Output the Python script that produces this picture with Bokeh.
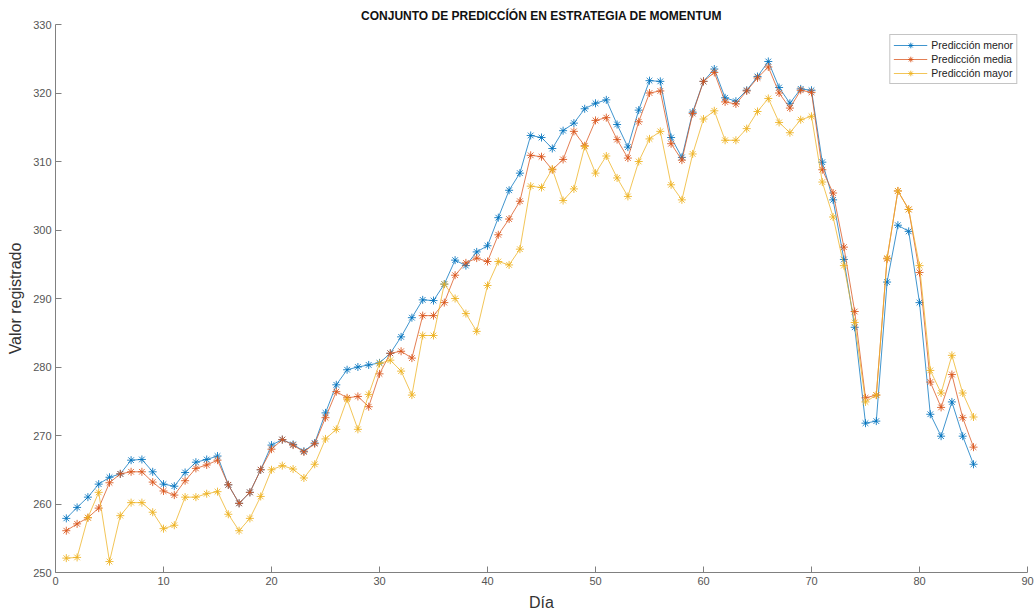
from bokeh.plotting import figure
from bokeh.models import ColumnDataSource, Range1d, FixedTicker, Legend, LegendItem
from bokeh.embed import file_html
from bokeh.resources import INLINE

# Day index and the three prediction series
dias = list(range(1, 86))

prediccion_menor = [
    257.9, 259.5, 261.0, 262.9, 263.9, 264.4, 266.4, 266.5, 264.7, 262.9,
    262.6, 264.6, 266.1, 266.5, 267.0, 262.8, 260.1, 261.7, 265.0, 268.6,
    269.4, 268.7, 267.7, 268.9, 273.3, 277.4, 279.6, 280.0, 280.3, 280.6,
    282.0, 284.4, 287.2, 289.8, 289.7, 292.1, 295.6, 294.8, 296.8, 297.7,
    301.8, 305.8, 308.3, 313.8, 313.5, 311.9, 314.5, 315.6, 317.7, 318.5,
    319.0, 315.4, 312.1, 317.5, 321.8, 321.7, 313.5, 310.6, 317.2, 321.7,
    323.5, 319.3, 318.8, 320.4, 322.4, 324.6, 320.8, 318.5, 320.6, 320.4,
    309.9, 304.4, 295.7, 285.8, 271.8, 272.1, 292.4, 300.7, 299.8, 289.4,
    273.1, 269.9, 274.9, 269.9, 265.8,
]

prediccion_media = [
    256.1, 257.1, 258.0, 259.4, 263.1, 264.4, 264.7, 264.7, 263.2, 261.9,
    261.3, 263.4, 265.2, 265.7, 266.4, 262.8, 260.1, 261.7, 265.0, 268.0,
    269.4, 268.6, 267.6, 268.8, 272.6, 276.4, 275.5, 275.7, 274.2, 279.0,
    282.0, 282.3, 281.3, 287.5, 287.5, 289.4, 293.4, 295.2, 295.9, 295.4,
    299.3, 301.6, 304.2, 310.9, 310.7, 308.8, 310.3, 314.4, 312.3, 316.0,
    316.4, 313.2, 310.5, 315.8, 320.0, 320.3, 312.6, 310.2, 317.0, 321.7,
    323.0, 318.7, 318.4, 320.3, 322.2, 323.8, 320.0, 317.8, 320.4, 320.1,
    308.8, 305.4, 297.5, 288.1, 275.5, 275.9, 295.8, 305.7, 303.0, 293.8,
    277.8, 274.1, 278.9, 272.6, 268.3,
]

prediccion_mayor = [
    252.1, 252.2, 258.0, 261.7, 251.6, 258.3, 260.2, 260.2, 258.8, 256.4,
    256.9, 261.0, 261.0, 261.5, 261.8, 258.5, 256.1, 257.9, 261.1, 265.0,
    265.6, 265.1, 263.8, 265.8, 269.5, 270.9, 275.3, 270.9, 276.0, 280.5,
    281.0, 279.4, 275.9, 284.6, 284.6, 292.1, 290.0, 287.8, 285.2, 291.9,
    295.4, 294.9, 297.2, 306.4, 306.2, 308.9, 304.3, 306.0, 312.2, 308.3,
    310.8, 307.6, 304.9, 310.0, 313.3, 314.4, 306.6, 304.4, 311.1, 316.2,
    317.4, 313.1, 313.1, 314.8, 317.3, 319.2, 315.7, 314.2, 316.1, 316.6,
    307.0, 301.9, 294.8, 286.5, 274.9, 275.9, 295.9, 305.7, 303.0, 294.8,
    279.5, 276.2, 281.7, 276.2, 272.7,
]

series_labels = ["Predicción menor", "Predicción media", "Predicción mayor"]
x_ticks = [0, 10, 20, 30, 40, 50, 60, 70, 80, 90]
y_ticks = [250, 260, 270, 280, 290, 300, 310, 320, 330]

colors = ["#0072BD", "#D95319", "#EDB120"]
FONT = "Liberation Sans"

p = figure(
    width=1036, height=613,
    output_backend="svg", toolbar_location=None,
    x_range=Range1d(0, 90), y_range=Range1d(250, 330),
    min_border_left=55, min_border_right=9,
    min_border_top=24, min_border_bottom=41,
    background_fill_color="white", border_fill_color="white",
    outline_line_color=None,
)

p.title.text = "CONJUNTO DE PREDICCÍÓN EN ESTRATEGIA DE MOMENTUM"
p.title.align = "center"
p.title.text_font = FONT
p.title.text_font_size = "12px"
p.title.text_font_style = "bold"
p.title.text_color = "#111111"
p.title.standoff = 4

p.xgrid.visible = False
p.ygrid.visible = False

for ax, ticks in ((p.xaxis[0], x_ticks), (p.yaxis[0], y_ticks)):
    ax.ticker = FixedTicker(ticks=ticks)
    ax.minor_tick_line_color = None
    ax.major_tick_in = 6
    ax.major_tick_out = 0
    ax.axis_line_color = "#808080"
    ax.major_tick_line_color = "#808080"
    ax.major_label_text_font = FONT
    ax.major_label_text_font_size = "11px"
    ax.major_label_text_color = "#555555"
    ax.axis_label_text_font = FONT
    ax.axis_label_text_font_size = "16px"
    ax.axis_label_text_font_style = "normal"
    ax.axis_label_text_color = "#333333"
    ax.major_label_standoff = 4

p.xaxis.axis_label = "Día"
p.yaxis.axis_label = "Valor registrado"
p.xaxis.axis_label_standoff = 6
p.yaxis.axis_label_standoff = 6

items = []
for vals, col, lab in zip([prediccion_menor, prediccion_media, prediccion_mayor], colors, series_labels):
    src = ColumnDataSource(data=dict(x=dias, y=vals))
    ln = p.line("x", "y", source=src, line_color=col, line_width=1.0, line_alpha=0.75)
    sc = p.scatter("x", "y", source=src, marker="asterisk", size=8,
                   line_color=col, line_width=1.0, line_alpha=0.85)
    items.append(LegendItem(label=lab, renderers=[ln, sc]))

legend = Legend(
    items=items, location="top_right",
    label_text_font=FONT, label_text_font_size="10.5px", label_text_color="#222222",
    glyph_width=34, glyph_height=14, label_height=14, label_standoff=4,
    spacing=0, padding=3, margin=10,
    border_line_color="#8a8a8a", border_line_width=1,
    background_fill_color="white", background_fill_alpha=1.0,
)
p.add_layout(legend)

open("out.html", "w").write(file_html(p, INLINE))
